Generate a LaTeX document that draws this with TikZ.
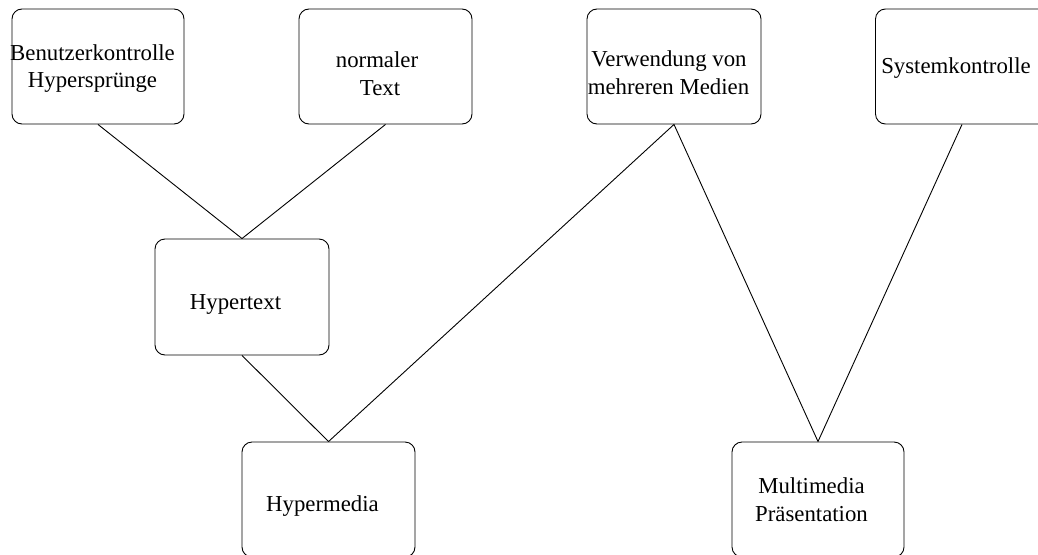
\documentclass[tikz,border=0pt]{standalone}
\usepackage{fontspec}
\setmainfont{Liberation Serif}
\begin{document}
\begin{tikzpicture}[x=1pt,y=-1pt,
  box/.style={draw, line width=0.9pt, rounded corners=10pt, inner sep=0pt,
              minimum width=173pt, minimum height=115pt},
  lbl/.style={anchor=base, inner sep=0pt, font=\fontsize{22.8}{28}\selectfont},
  link/.style={line width=0.9pt}]
\useasboundingbox (0,0) rectangle (1038,554);
\clip (0,0) rectangle (1038,554);

% boxes
\node[box, minimum width=172pt] (b1) at (98,66.5) {};
\node[box] (b2) at (385.5,66.5) {};
\node[box, minimum width=174pt] (b3) at (674,66.5) {};
\node[box] (b4) at (962,66.5) {};
\node[box, minimum width=174pt, minimum height=116pt] (ht) at (242,297) {};
\node[box] (hm) at (328.5,499.5) {};
\node[box, minimum width=172pt] (mm) at (818,499.5) {};

% labels
\node[lbl] (t1a) at (92.5,60) {Benutzerkontrolle};
\node[lbl] (t1b) at (92.5,87) {Hypersprünge};
\node[lbl] (t2a) at (377,67) {normaler};
\node[lbl] (t2b) at (380,95) {Text};
\node[lbl] (t3a) at (669,66.5) {Verwendung von};
\node[lbl] (t3b) at (668.5,94) {mehreren Medien};
\node[lbl] (t4) at (956,73) {Systemkontrolle};
\node[lbl] (t5) at (235.5,309) {Hypertext};
\node[lbl] (t6) at (322.5,511) {Hypermedia};
\node[lbl] (t7a) at (811.5,493) {Multimedia};
\node[lbl] (t7b) at (811.5,521.5) {Präsentation};

% connectors
\draw[link] (b1.south) -- (ht.north);
\draw[link] (b2.south) -- (ht.north);
\draw[link] (ht.south) -- (hm.north);
\draw[link] (b3.south) -- (hm.north);
\draw[link] (b3.south) -- (mm.north);
\draw[link] (b4.south) -- (mm.north);
\end{tikzpicture}
\end{document}
